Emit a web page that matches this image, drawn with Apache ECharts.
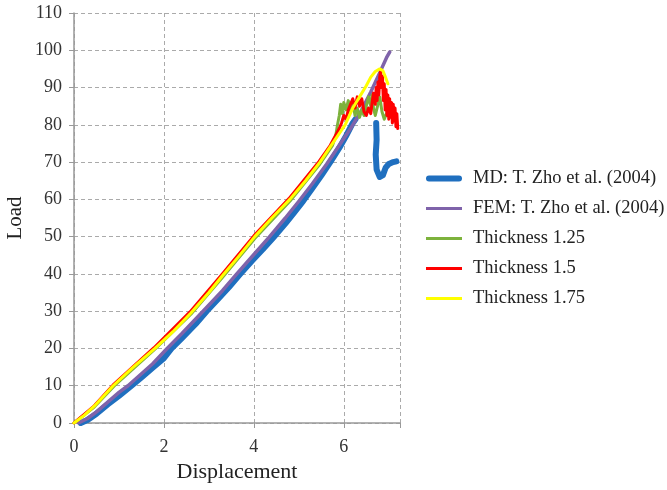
<!DOCTYPE html>
<html>
<head>
<meta charset="utf-8">
<script src="https://cdn.jsdelivr.net/npm/echarts@6/dist/echarts.min.js"></script>
<style>
  html, body { margin: 0; padding: 0; background: #fff; }
  #chart { width: 667px; height: 490px; }
</style>
</head>
<body>
<div id="chart"></div>
<script>
// [displacement, load] pairs
const seriesNames = ['MD: T. Zho et al. (2004)', 'FEM: T. Zho et al. (2004)', 'Thickness 1.25', 'Thickness 1.5', 'Thickness 1.75']
const yTicks = [0, 10, 20, 30, 40, 50, 60, 70, 80, 90, 100, 110]
const xTicks = [0, 2, 4, 6]

const mdData = [
  [0.15, 0], [0.3, 0.8], [0.5, 2.5], [0.75, 5], [1.0, 7.3], [1.28, 10], [1.5, 12.2], [1.75, 14.8],
  [2.0, 17.4], [2.17, 20], [2.4, 22.8], [2.7, 26.5], [2.95, 30], [3.2, 33.2], [3.45, 36.5], [3.7, 40],
  [3.95, 43.4], [4.2, 46.6], [4.45, 50], [4.7, 53.5], [4.9, 56.5], [5.1, 59.6], [5.3, 63], [5.5, 66.4],
  [5.7, 70], [5.9, 73.8], [6.05, 77], [6.2, 80.5], [6.26, 81.5], [6.45, '-'],
  [6.72, 80.5], [6.73, 76], [6.71, 72], [6.73, 68], [6.8, 66], [6.87, 66.5], [6.93, 68.5], [7.0, 69.5],
  [7.1, 70], [7.17, 70.2]
]
const femData = [
  [0.1, 0], [0.3, 1.2], [0.5, 3], [0.75, 5.6], [1.0, 8.2], [1.2, 10], [1.5, 13.2], [1.75, 15.9],
  [2.07, 20], [2.4, 24], [2.87, 30], [3.3, 35.5], [3.62, 40], [4.0, 45.2], [4.35, 50], [4.7, 55],
  [5.0, 59.5], [5.3, 64.2], [5.62, 69.5], [5.9, 74.5], [6.15, 79], [6.4, 84], [6.6, 88.8], [6.8, 94],
  [6.95, 98], [7.02, 99.5]
]
const t125Data = [
  [0, 0], [0.45, 4.3], [0.9, 10], [1.8, 19.8], [2.6, 29.2], [3.3, 39], [4.02, 49.5], [4.8, 59.5],
  [5.47, 69.5], [5.75, 74.5], [5.82, 77], [5.86, 80], [5.9, 82.5], [5.93, 85.5], [5.97, 83], [6.0, 86],
  [6.05, 84], [6.1, 86.5], [6.15, 83.5], [6.2, 86], [6.25, 82.5], [6.3, 84.5], [6.35, 82], [6.4, 84],
  [6.45, 82.5], [6.5, 85], [6.55, 87.5], [6.6, 85], [6.63, 88], [6.66, 84.5], [6.7, 82.5], [6.75, 85],
  [6.8, 87.5], [6.85, 83.5], [6.9, 81.5], [6.95, 83], [7.0, 84.5], [7.05, 83]
]
const t150Data = [
  [0, 0], [0.45, 4.6], [0.87, 10.2], [1.78, 20.2], [2.58, 29.8], [3.28, 39.7], [4.0, 50.2], [4.78, 60.2],
  [5.45, 70.2], [5.7, 74.5], [5.9, 79], [5.95, 80.5], [6.0, 82.5], [6.05, 81.5], [6.1, 84], [6.15, 85.5],
  [6.2, 87], [6.25, 84.5], [6.3, 87.5], [6.35, 85], [6.4, 87], [6.45, 83.5], [6.5, 82.5], [6.55, 84.5],
  [6.6, 83], [6.63, 86], [6.66, 88.5], [6.7, 85.5], [6.72, 90], [6.74, 86.5], [6.76, 91.5], [6.78, 88],
  [6.8, 93], [6.82, 94.5], [6.84, 90], [6.86, 93], [6.88, 86.5], [6.9, 91], [6.92, 84], [6.94, 89.5],
  [6.96, 82.5], [6.98, 88], [7.0, 81.5], [7.02, 87], [7.04, 82], [7.06, 86], [7.08, 80.5], [7.1, 85.5],
  [7.12, 81], [7.14, 84.5], [7.16, 79.5], [7.18, 83], [7.2, 79]
]
const t175Data = [
  [0, 0], [0.2, 1.8], [0.45, 4.5], [0.87, 10], [1.3, 14.8], [1.8, 20], [2.2, 24.5], [2.6, 29.5],
  [3.0, 35], [3.3, 39.5], [3.65, 44.5], [4.02, 50], [4.4, 55], [4.8, 60], [5.15, 65], [5.47, 70],
  [5.75, 75], [6.03, 80], [6.2, 84.5], [6.35, 87.5], [6.5, 90.5], [6.6, 92.8], [6.7, 94.3], [6.8, 95],
  [6.87, 94.5], [6.92, 93], [6.98, 91]
]

const colors = ['#1f6fbf', '#7f63aa', '#7db23c', '#ff0000', '#ffff00']
const widths = [6, 3.5, 3, 3, 3]
const allData = [mdData, femData, t125Data, t150Data, t175Data]
const serif = "'Liberation Serif', 'Times New Roman', serif"

const chart = echarts.init(document.getElementById('chart'))
const option = {
  animation: false,
  color: colors,
  grid: { left: 74, right: 267, top: 13, bottom: 67, containLabel: false },
  legend: {
    orient: 'vertical',
    left: 421,
    top: 164,
    itemWidth: 36,
    itemHeight: 12,
    itemGap: 11,
    symbolKeepAspect: true,
    textStyle: { fontFamily: serif, fontSize: 18.5, color: '#222', padding: [0, 0, 0, 6] },
    data: seriesNames.map((n, i) => ({
      name: n,
      icon: i === 0 ? 'path://M3,0H33A3,3,0,0,1,33,6H3A3,3,0,0,1,3,0Z' : 'path://M0,0H36V3H0Z'
    }))
  },
  xAxis: {
    type: 'value',
    min: 0,
    max: 7.25,
    interval: 2,
    name: 'Displacement',
    nameLocation: 'middle',
    nameGap: 38,
    nameTextStyle: { fontFamily: serif, fontSize: 22, color: '#222' },
    axisLine: { lineStyle: { color: '#999', width: 1.5 } },
    axisTick: { show: true, length: 5, lineStyle: { color: '#999' } },
    axisLabel: {
      fontFamily: serif, fontSize: 18, color: '#333', margin: 15,
      formatter: v => (xTicks.includes(v) ? String(v) : '')
    },
    splitLine: { show: true, lineStyle: { color: '#aaa', type: [4, 3], width: 1 } }
  },
  yAxis: {
    type: 'value',
    min: 0,
    max: 110,
    interval: 10,
    name: 'Load',
    nameLocation: 'middle',
    nameGap: 48,
    nameTextStyle: { fontFamily: serif, fontSize: 21, color: '#222' },
    axisLine: { show: true, lineStyle: { color: '#999', width: 1.5 } },
    axisTick: { show: true, length: 5, lineStyle: { color: '#999' } },
    axisLabel: {
      fontFamily: serif, fontSize: 18, color: '#333', margin: 12,
      formatter: v => (yTicks.includes(v) ? String(v) : '')
    },
    splitLine: { show: true, lineStyle: { color: '#aaa', type: [4, 3], width: 1 } }
  },
  series: allData.map((d, i) => ({
    name: seriesNames[i],
    type: 'line',
    data: d,
    showSymbol: false,
    symbol: 'none',
    connectNulls: false,
    z: 2 + i,
    lineStyle: { color: colors[i], width: widths[i], cap: 'round', join: 'round' }
  }))
}
chart.setOption(option)
</script>
</body>
</html>
